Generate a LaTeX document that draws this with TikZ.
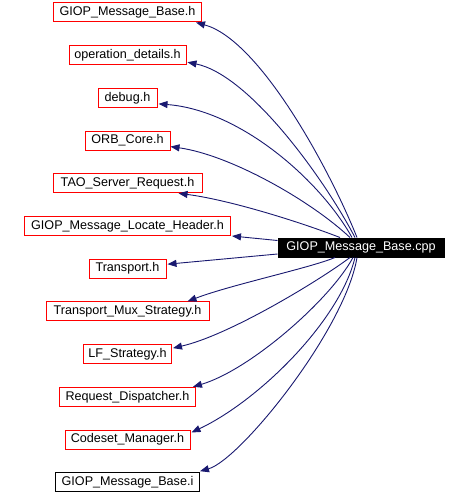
\documentclass[tikz,border=0pt]{standalone}
\usepackage{fontspec}
\setmainfont{Liberation Sans}
\usetikzlibrary{arrows.meta,calc}
\definecolor{edgeblue}{HTML}{191970}
\begin{document}
\begin{tikzpicture}[x=1pt,y=-1pt,
  file/.style={draw=red,line width=1pt,minimum height=19pt,inner sep=0pt,
    font=\fontsize{12.6}{14}\selectfont,text=black},
  plain/.style={file,draw=black},
  main/.style={file,draw=black,fill=black,text=white},
  dep/.style={draw=edgeblue,line width=0.9pt,-{Triangle[length=9pt,width=7pt]}}]
\useasboundingbox (0,0) rectangle (468,494);
\fill[white] (0,0) rectangle (468,494);

\node[file,minimum width=148pt] (n1) at (127.5,12.5) {GIOP\_Message\_Base.h};
\node[file,minimum width=117pt] (n2) at (127.5,55.2) {operation\_details.h};
\node[file,minimum width=59pt] (n3) at (127.5,97.9) {debug.h};
\node[file,minimum width=85pt] (n4) at (127.5,140.6) {ORB\_Core.h};
\node[file,minimum width=149pt] (n5) at (127.5,183.3) {TAO\_Server\_Request.h};
\node[file,minimum width=206pt] (n6) at (127.5,226) {GIOP\_Message\_Locate\_Header.h};
\node[file,minimum width=77pt] (n7) at (127.5,268.7) {Transport.h};
\node[file,minimum width=163pt] (n8) at (127.5,311.4) {Transport\_Mux\_Strategy.h};
\node[file,minimum width=88pt] (n9) at (127.5,354.1) {LF\_Strategy.h};
\node[file,minimum width=136pt] (n10) at (127.5,396.8) {Request\_Dispatcher.h};
\node[file,minimum width=125pt] (n11) at (127.5,439.5) {Codeset\_Manager.h};
\node[plain,minimum width=144pt] (n12) at (127.5,482.2) {GIOP\_Message\_Base.i};

\node[main,minimum width=166pt] (cpp) at (361,247.5) {GIOP\_Message\_Base.cpp};

\draw[dep] ($(cpp.north)+(-4,0)$) .. controls (330,170) and (260,40) .. ($(n1.south east)+(-6,0)$);
\draw[dep] ($(cpp.north)+(-6,0)$) .. controls (325,180) and (250,75) .. ($(n2.south east)+(1,-3)$);
\draw[dep] ($(cpp.north)+(-9,0)$) .. controls (320,180) and (240,110) .. ($(n3.east)+(1,6)$);
\draw[dep] ($(cpp.north)+(-11,0)$) .. controls (310,200) and (230,155) .. ($(n4.east)+(0,6)$);
\draw[dep] ($(cpp.north)+(-21,0)$) .. controls (300,222) and (230,200) .. ($(n5.south east)+(-24,0)$);
\draw[dep] ($(cpp.west)+(0,-7)$) -- ($(n6.south east)+(1,0)$);
\draw[dep] ($(cpp.west)+(0,6.5)$) -- ($(n7.east)+(1,-4.5)$);
\draw[dep] ($(cpp.south)+(-26,0)$) .. controls (310,268) and (230,285) .. ($(n8.north east)+(-22,0)$);
\draw[dep] ($(cpp.south)+(-11,0)$) .. controls (320,280) and (230,335) .. ($(n9.east)+(1,-6)$);
\draw[dep] ($(cpp.south)+(-8,0)$) .. controls (330,300) and (250,370) .. ($(n10.north east)+(-3,0)$);
\draw[dep] ($(cpp.south)+(-6,0)$) .. controls (340,320) and (260,400) .. ($(n11.north east)+(1,3)$);
\draw[dep] ($(cpp.south)+(-4,0)$) .. controls (345,330) and (240,460) .. ($(n12.north east)+(0,-1)$);
\end{tikzpicture}
\end{document}
